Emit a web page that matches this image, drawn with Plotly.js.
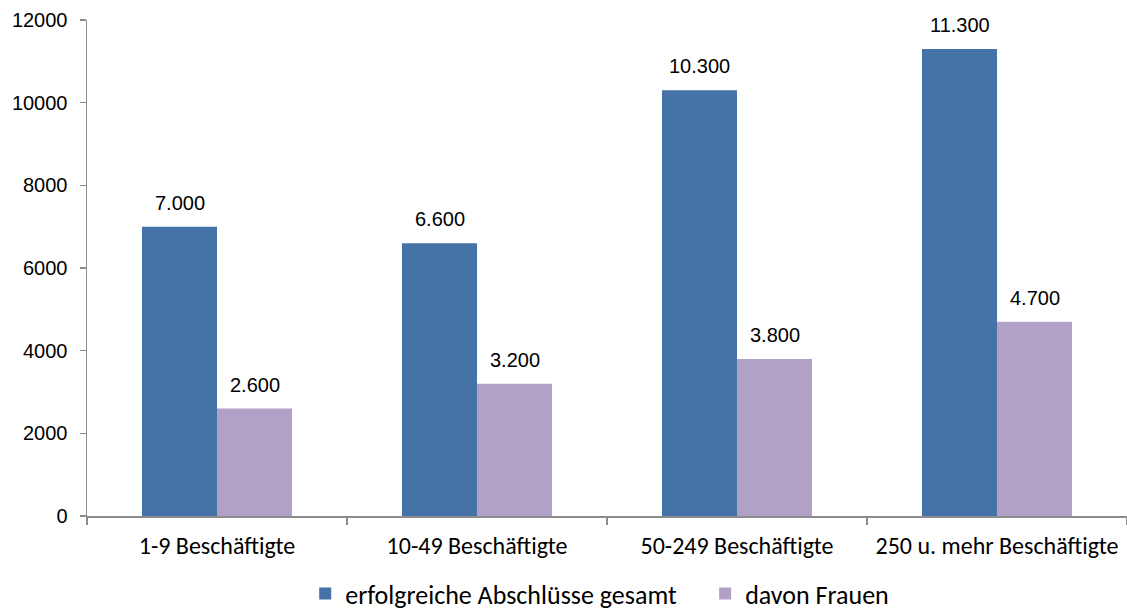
<!DOCTYPE html>
<html>
<head>
<meta charset="utf-8">
<script src="https://cdn.plot.ly/plotly-3.0.1.min.js"></script>
<style>
  html, body { margin: 0; padding: 0; background: #fff; }
  #chart { width: 1127px; height: 612px; }
</style>
</head>
<body>
<div id="chart"></div>
<script>
// Company size classes
const categories = ['1-9 Beschäftigte', '10-49 Beschäftigte', '50-249 Beschäftigte', '250 u. mehr Beschäftigte'];
// Successful completions, total and of which women
const totalValues = [7000, 6600, 10300, 11300];
const womenValues = [2600, 3200, 3800, 4700];
const seriesNames = ['erfolgreiche Abschlüsse gesamt', 'davon Frauen'];
const yTickValues = [0, 2000, 4000, 6000, 8000, 10000, 12000];

const blue = '#4572A7';
const purple = '#B2A1C7';
const axisColor = '#8c8c8c';
const numFont = 'Arial, "Liberation Sans", sans-serif';
const textFont = 'Calibri, Carlito, Lato, sans-serif';

// German thousands separator: 7000 -> "7.000"
function fmt(v) {
  return String(v).replace(/\B(?=(\d{3})+(?!\d))/g, '.');
}

// a little extra room between the two legend entries
const legendGap = '\u00a0\u00a0\u00a0\u00a0';

const traces = [
  { type: 'bar', x: categories, y: totalValues, name: seriesNames[0] + legendGap,
    marker: { color: blue }, hoverinfo: 'x+y' },
  { type: 'bar', x: categories, y: womenValues, name: seriesNames[1],
    marker: { color: purple }, hoverinfo: 'x+y' }
];

// Value labels above each bar, offset to the bar's slot within the group
const halfBar = 37.5;
const annotations = [];
[totalValues, womenValues].forEach((vals, s) => {
  vals.forEach((v, i) => {
    annotations.push({
      x: categories[i], y: v, xref: 'x', yref: 'y',
      text: fmt(v), showarrow: false,
      xanchor: 'center', yanchor: 'bottom',
      xshift: s === 0 ? -halfBar : halfBar, yshift: 11,
      font: { family: numFont, size: 20, color: '#000' }
    });
  });
});

const layout = {
  width: 1127, height: 612,
  margin: { l: 87, r: 0, t: 20, b: 96, autoexpand: false },
  paper_bgcolor: '#fff', plot_bgcolor: '#fff',
  barmode: 'group', bargap: 0.423, bargroupgap: 0,
  showlegend: true,
  legend: {
    orientation: 'h', x: 0.493, xanchor: 'center',
    yref: 'container', y: 0.03, yanchor: 'middle',
    font: { family: textFont, size: 26, color: '#000' },
    traceorder: 'normal', itemwidth: 30
  },
  xaxis: {
    type: 'category', showline: true, linecolor: axisColor, linewidth: 1.5,
    ticks: 'outside', tickson: 'boundaries', ticklen: 7, tickcolor: axisColor, tickwidth: 1.5,
    tickfont: { family: textFont, size: 24, color: '#000' }, ticklabelstandoff: 8,
    showgrid: false, zeroline: false, fixedrange: true
  },
  yaxis: {
    range: [0, 12000], tickvals: yTickValues, tickformat: 'd',
    showline: true, linecolor: axisColor, linewidth: 1.5,
    ticks: 'outside', ticklen: 6, tickcolor: axisColor, tickwidth: 1.5,
    tickfont: { family: numFont, size: 20, color: '#000' }, ticklabelstandoff: 8,
    showgrid: false, zeroline: false, fixedrange: true
  },
  annotations: annotations
};

Plotly.newPlot('chart', traces, layout, { displayModeBar: false, staticPlot: true });
</script>
</body>
</html>
